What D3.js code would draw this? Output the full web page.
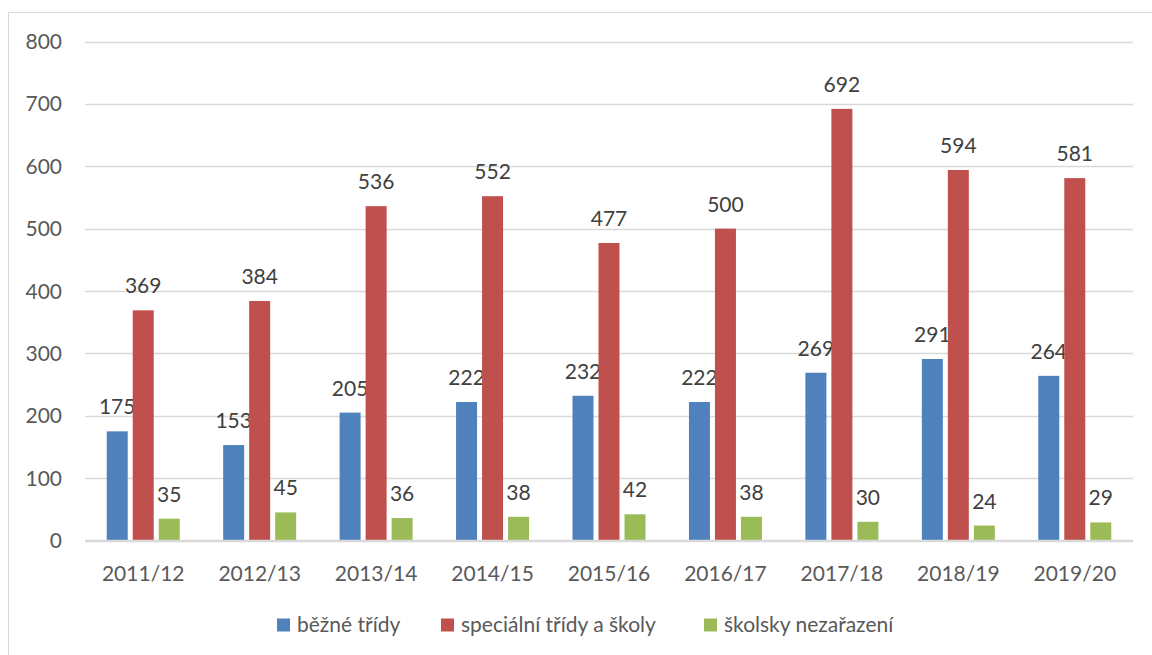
<!DOCTYPE html>
<html><head><meta charset="utf-8">
<script src="https://cdn.jsdelivr.net/npm/d3@7"></script>
<style>body{margin:0;background:#fff}svg{display:block}text{font-family:Lato,"Open Sans",sans-serif}</style>
</head><body><svg id="c" width="1152" height="655"></svg>
<script>
const categories=["2011/12","2012/13","2013/14","2014/15","2015/16","2016/17","2017/18","2018/19","2019/20"];
const seriesNames=["běžné třídy","speciální třídy a školy","školsky nezařazení"];
const bezne=[175,153,205,222,232,222,269,291,264];
const specialni=[369,384,536,552,477,500,692,594,581];
const nezarazeni=[35,45,36,38,42,38,30,24,29];
const yTicks=[0,100,200,300,400,500,600,700,800];
const colors=["#4f81bd","#c0504d","#9bbb59"];

const svg=d3.select("#c");
svg.append("rect").attr("x",8.5).attr("y",12.5).attr("width",1150).attr("height",650).attr("fill","none").attr("stroke","#d9d9d9");
const L=85,R=1133,T=41.5,B=540.5;
const x=d3.scaleBand().domain(categories).range([L,R]);
const y=d3.scaleLinear().domain([0,800]).range([B,T]);
const series=[bezne,specialni,nezarazeni];
const bw=21,step=26,fs=21;
svg.append("g").selectAll("line").data(yTicks).join("line")
 .attr("x1",L).attr("x2",R).attr("y1",d=>Math.round(y(d))+0.5).attr("y2",d=>Math.round(y(d))+0.5)
 .attr("stroke","#d9d9d9").attr("stroke-width",1.5);
svg.append("g").selectAll("text").data(yTicks).join("text")
 .attr("x",62).attr("y",d=>y(d)+7.5).attr("text-anchor","end")
 .attr("fill","#595959").attr("font-size",fs).text(d=>d);
series.forEach((s,i)=>{
  const g=svg.append("g");
  g.selectAll("rect").data(s).join("rect")
   .attr("x",(d,j)=>x(categories[j])+x.bandwidth()/2+(i-1)*step-bw/2)
   .attr("y",d=>y(d)).attr("width",bw).attr("height",d=>B-y(d)).attr("fill",colors[i]);
  g.selectAll("text").data(s).join("text")
   .attr("x",(d,j)=>x(categories[j])+x.bandwidth()/2+(i-1)*step)
   .attr("y",d=>y(d)-17).attr("text-anchor","middle").attr("fill","#404040").attr("font-size",fs).text(d=>d);
});
svg.append("line").attr("x1",L).attr("x2",R).attr("y1",B).attr("y2",B).attr("stroke","#d9d9d9").attr("stroke-width",1.5);
svg.append("g").selectAll("text").data(categories).join("text")
 .attr("x",d=>x(d)+x.bandwidth()/2).attr("y",581).attr("text-anchor","middle")
 .attr("fill","#595959").attr("font-size",fs).text(d=>d);
const lx=[277,441,704];
seriesNames.forEach((n,i)=>{
  svg.append("rect").attr("x",lx[i]).attr("y",618.5).attr("width",13).attr("height",13).attr("fill",colors[i]);
  svg.append("text").attr("x",lx[i]+20).attr("y",632).attr("fill","#595959").attr("font-size",fs).text(n);
});
</script></body></html>
